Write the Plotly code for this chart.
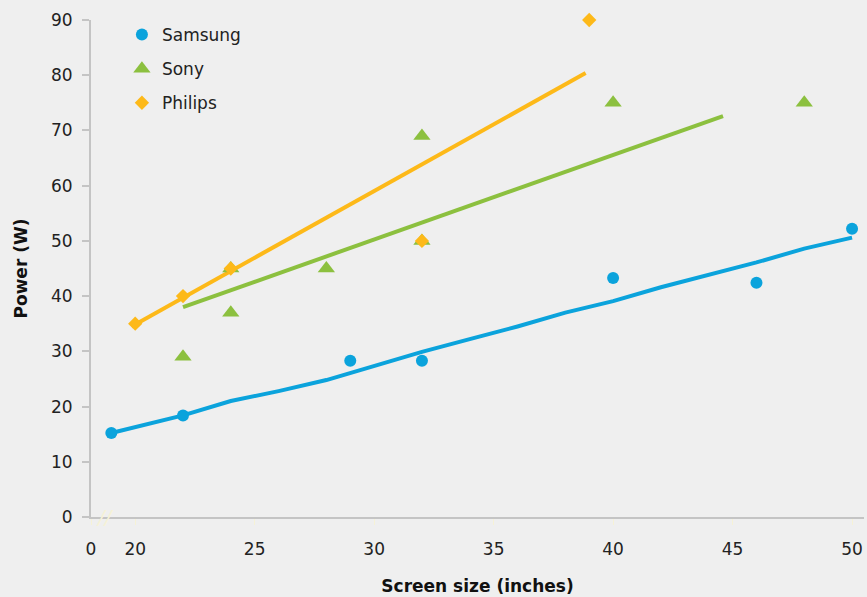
import plotly.graph_objects as go

# ---- data ----
samsung_x = [19, 22, 29, 32, 40, 46, 50]
samsung_y = [15.2, 18.4, 28.3, 28.3, 43.3, 42.4, 52.2]
sony_x = [22, 24, 24, 28, 32, 32, 40, 48]
sony_y = [29, 37, 45, 45, 50, 69, 75, 75]
philips_x = [20, 22, 24, 32, 39]
philips_y = [35, 40, 45, 50, 90]

samsung_fit_x = [19, 22, 24, 26, 28, 30, 32, 34, 36, 38, 40, 42, 44, 46, 48, 50]
samsung_fit_y = [15.2, 18.4, 21.0, 22.8, 24.8, 27.3, 29.9, 32.2, 34.5, 37.0, 39.1, 41.6, 43.9, 46.1, 48.6, 50.6]
sony_fit_x = [22, 44.6]
sony_fit_y = [38.0, 72.6]
philips_fit_x = [19.85, 38.85]
philips_fit_y = [34.5, 80.4]

x_tick_vals = [18.15, 20, 25, 30, 35, 40, 45, 50]
x_tick_text = ["0", "20", "25", "30", "35", "40", "45", "50"]
y_tick_vals = [0, 10, 20, 30, 40, 50, 60, 70, 80, 90]

BLUE = "#0BA3DC"
GREEN = "#8CC03F"
ORANGE = "#FDB919"
FONT = "DejaVu Sans"

fig = go.Figure()

# trend lines
fig.add_trace(go.Scatter(x=samsung_fit_x, y=samsung_fit_y, mode="lines",
                         line=dict(color=BLUE, width=4), showlegend=False, hoverinfo="skip"))
fig.add_trace(go.Scatter(x=sony_fit_x, y=sony_fit_y, mode="lines",
                         line=dict(color=GREEN, width=4), showlegend=False, hoverinfo="skip"))
fig.add_trace(go.Scatter(x=philips_fit_x, y=philips_fit_y, mode="lines",
                         line=dict(color=ORANGE, width=4), showlegend=False, hoverinfo="skip"))

# points
fig.add_trace(go.Scatter(x=samsung_x, y=samsung_y, mode="markers", name="Samsung",
                         legendgroup="a",
                         marker=dict(symbol="circle", size=12, color=BLUE, line=dict(width=0)),
                         cliponaxis=False))
fig.add_trace(go.Scatter(x=sony_x, y=sony_y, mode="markers", name="Sony",
                         legendgroup="b",
                         marker=dict(symbol="triangle-up", size=15, color=GREEN, line=dict(width=0)),
                         cliponaxis=False))
fig.add_trace(go.Scatter(x=philips_x, y=philips_y, mode="markers", name="Philips",
                         legendgroup="c",
                         marker=dict(symbol="diamond", size=11, color=ORANGE, line=dict(width=0)),
                         cliponaxis=False))

# axis break mark
fig.add_annotation(x=18.75, y=0, xref="x", yref="y", text="<i>//</i>", showarrow=False,
                   font=dict(family=FONT, size=20, color="#F6F2D6"))

fig.update_layout(
    width=867, height=597,
    margin=dict(l=91, r=3, t=20, b=80),
    paper_bgcolor="#EFEFEF", plot_bgcolor="#EFEFEF",
    font=dict(family=FONT, size=17, color="#222222"),
    showlegend=True,
    legend=dict(x=0.04, y=1.006, xanchor="left", yanchor="top",
                bgcolor="rgba(0,0,0,0)", tracegroupgap=9,
                font=dict(family=FONT, size=17, color="#222222")),
    xaxis=dict(range=[18.15, 50.5], tickmode="array", tickvals=x_tick_vals, ticktext=x_tick_text,
               showgrid=False, zeroline=False, showline=True, linecolor="#C4C4C4", linewidth=2,
               ticks="outside", ticklen=6, tickcolor="#F6F2D6", tickwidth=1,
               ticklabelstandoff=10,
               tickfont=dict(family=FONT, size=17, color="#222222"),
               title=dict(text="<b>Screen size (inches)</b>", font=dict(family=FONT, size=17, color="#111111"),
                          standoff=22)),
    yaxis=dict(range=[0, 90], tickmode="array", tickvals=y_tick_vals,
               showgrid=False, zeroline=False, showline=True, linecolor="#C4C4C4", linewidth=2,
               ticks="outside", ticklen=7, tickcolor="#C4C4C4", tickwidth=2,
               ticklabelstandoff=6,
               tickfont=dict(family=FONT, size=17, color="#222222"),
               title=dict(text="<b>Power (W)</b>", font=dict(family=FONT, size=17, color="#111111"),
                          standoff=19)),
)

fig.write_html("out.html", config={"displayModeBar": False},
               post_script="document.body.style.margin='0';")
